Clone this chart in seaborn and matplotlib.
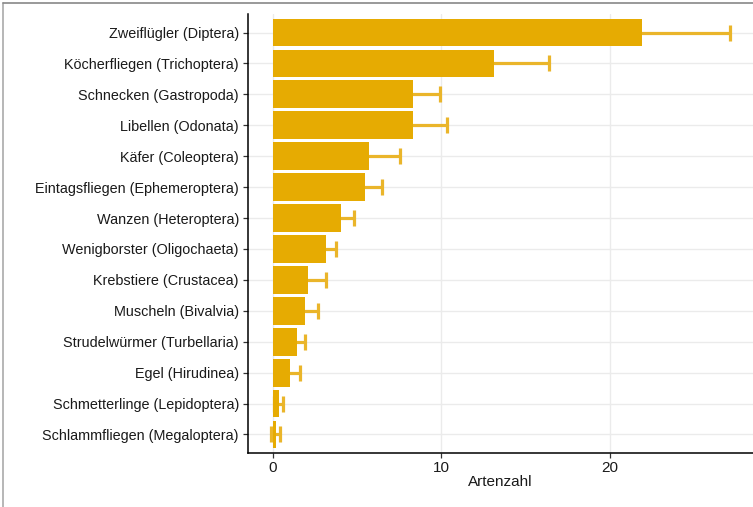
import matplotlib
matplotlib.use("Agg")
import matplotlib.pyplot as plt
import seaborn as sns
import pandas as pd
from matplotlib.lines import Line2D

categories = [
    "Zweiflügler (Diptera)",
    "Köcherfliegen (Trichoptera)",
    "Schnecken (Gastropoda)",
    "Libellen (Odonata)",
    "Käfer (Coleoptera)",
    "Eintagsfliegen (Ephemeroptera)",
    "Wanzen (Heteroptera)",
    "Wenigborster (Oligochaeta)",
    "Krebstiere (Crustacea)",
    "Muscheln (Bivalvia)",
    "Strudelwürmer (Turbellaria)",
    "Egel (Hirudinea)",
    "Schmetterlinge (Lepidoptera)",
    "Schlammfliegen (Megaloptera)",
]
values = [21.9, 13.1, 8.3, 8.3, 5.7, 5.45, 4.05, 3.15, 2.1, 1.9, 1.45, 1.0, 0.35, 0.18]
errors = [5.2, 3.25, 1.6, 2.05, 1.85, 1.0, 0.75, 0.6, 1.05, 0.8, 0.45, 0.6, 0.28, 0.27]
x_ticks = [0, 10, 20]
x_label = "Artenzahl"

bar_color = "#E6AB02"
err_color = "#EAB52A"

sns.set_theme(style="white")
plt.rcParams["font.family"] = ["Liberation Sans", "DejaVu Sans"]

df = pd.DataFrame({"Kategorie": categories, "Artenzahl": values, "err": errors})

fig = plt.figure(figsize=(7.53, 5.07), dpi=100)
ax = fig.add_axes([248 / 753, 1 - 453 / 507, 1 - 248 / 753, (453 - 14) / 507])

ax.errorbar(df["Artenzahl"], range(len(categories)), xerr=df["err"], fmt="none",
            ecolor=err_color, elinewidth=2.3, capsize=6, capthick=2.3, zorder=1.5)
sns.barplot(data=df, x="Artenzahl", y="Kategorie", order=categories, color=bar_color,
            saturation=1, width=0.9, errorbar=None, linewidth=0, ax=ax, zorder=2)

ax.set_axisbelow(True)
ax.xaxis.grid(True, color="#EBEBEB", linewidth=1.0)
ax.yaxis.grid(True, color="#EBEBEB", linewidth=1.0)

ax.set_xlim(-1.46, 28.46)
ax.set_ylim(len(categories) - 0.4, -0.6)
ax.set_xticks(x_ticks)
ax.set_xticklabels([str(t) for t in x_ticks])
ax.set_xlabel(x_label, fontsize=11, color="#1A1A1A", labelpad=0)
ax.set_ylabel("")

for side in ["top", "right"]:
    ax.spines[side].set_visible(False)
for side in ["left", "bottom"]:
    ax.spines[side].set_color("black")
    ax.spines[side].set_linewidth(1.1)

ax.tick_params(axis="both", which="major", length=3.5, width=0.9, color="#333333",
               labelsize=10.4, labelcolor="#1A1A1A", pad=3, bottom=True, left=True)
ax.tick_params(axis="x", labelsize=11, pad=2.5)

# outer frame lines (left and top)
fig.add_artist(Line2D([3 / 753, 3 / 753], [0, 1 - 3 / 507], color="#AAAAAA", linewidth=1.2,
                      transform=fig.transFigure))
fig.add_artist(Line2D([3 / 753, 1], [1 - 3 / 507, 1 - 3 / 507], color="#888888", linewidth=1.2,
                      transform=fig.transFigure))

fig.savefig("out.png", dpi=100)
